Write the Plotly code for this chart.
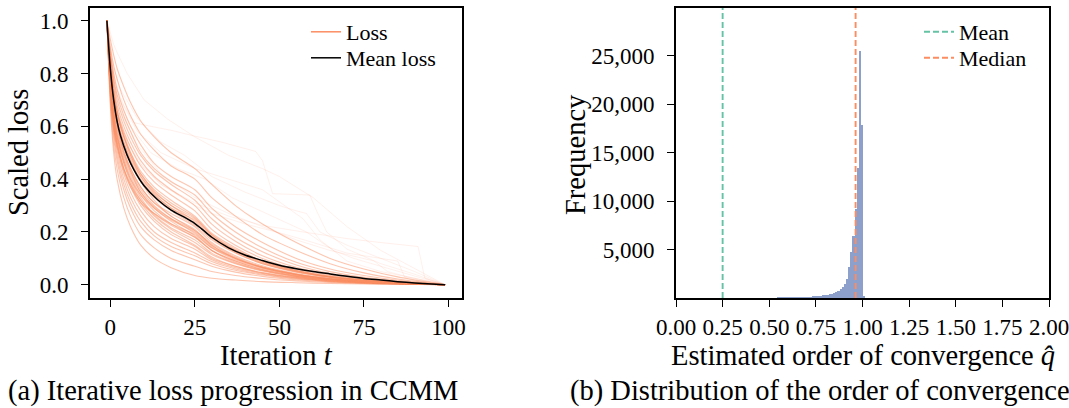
import plotly.graph_objects as go

# ---------------- data: left panel (scaled loss curves) ----------------
sample_iters = [-1, 0, 1, 2, 4, 6, 9, 13, 18, 25, 30, 37, 45, 55, 65, 75, 85, 99]
loss_curves = [
    [1, 0.68, 0.50, 0.40, 0.29, 0.22, 0.15, 0.10, 0.065, 0.035, 0.025, 0.018, 0.012, 0.008, 0.005, 0.003, 0.002, 0],
    [1, 0.70, 0.53, 0.44, 0.33, 0.26, 0.19, 0.14, 0.10, 0.07, 0.05, 0.035, 0.024, 0.015, 0.009, 0.005, 0.002, 0],
    [1, 0.72, 0.56, 0.47, 0.36, 0.29, 0.22, 0.17, 0.13, 0.095, 0.07, 0.048, 0.032, 0.019, 0.011, 0.006, 0.003, 0],
    [1, 0.74, 0.58, 0.49, 0.38, 0.31, 0.24, 0.185, 0.145, 0.11, 0.08, 0.055, 0.037, 0.022, 0.013, 0.007, 0.003, 0],
    [1, 0.75, 0.60, 0.51, 0.40, 0.33, 0.26, 0.20, 0.16, 0.12, 0.088, 0.06, 0.04, 0.024, 0.014, 0.008, 0.004, 0],
    [1, 0.76, 0.61, 0.53, 0.42, 0.35, 0.28, 0.22, 0.175, 0.135, 0.095, 0.065, 0.043, 0.026, 0.015, 0.008, 0.004, 0],
    [1, 0.77, 0.62, 0.54, 0.44, 0.37, 0.30, 0.24, 0.19, 0.145, 0.10, 0.07, 0.046, 0.028, 0.016, 0.009, 0.004, 0],
    [1, 0.78, 0.64, 0.56, 0.46, 0.39, 0.32, 0.26, 0.21, 0.16, 0.115, 0.08, 0.052, 0.031, 0.018, 0.01, 0.005, 0],
    [1, 0.79, 0.65, 0.57, 0.47, 0.41, 0.34, 0.28, 0.23, 0.18, 0.13, 0.09, 0.058, 0.034, 0.02, 0.011, 0.005, 0],
    [1, 0.80, 0.66, 0.58, 0.49, 0.43, 0.36, 0.30, 0.25, 0.195, 0.14, 0.095, 0.062, 0.037, 0.021, 0.012, 0.006, 0],
    [1, 0.80, 0.67, 0.60, 0.51, 0.44, 0.37, 0.31, 0.26, 0.205, 0.155, 0.105, 0.068, 0.04, 0.023, 0.013, 0.006, 0],
    [1, 0.81, 0.68, 0.61, 0.52, 0.46, 0.39, 0.33, 0.28, 0.225, 0.17, 0.12, 0.08, 0.05, 0.03, 0.017, 0.008, 0],
    [1, 0.82, 0.70, 0.63, 0.54, 0.48, 0.41, 0.35, 0.30, 0.24, 0.18, 0.125, 0.083, 0.05, 0.029, 0.016, 0.008, 0],
    [1, 0.83, 0.71, 0.64, 0.56, 0.50, 0.43, 0.37, 0.32, 0.26, 0.195, 0.14, 0.09, 0.055, 0.032, 0.018, 0.008, 0],
    [1, 0.84, 0.73, 0.66, 0.58, 0.52, 0.45, 0.39, 0.34, 0.28, 0.21, 0.15, 0.10, 0.06, 0.035, 0.02, 0.009, 0],
    [1, 0.85, 0.75, 0.68, 0.60, 0.54, 0.47, 0.41, 0.36, 0.30, 0.23, 0.165, 0.11, 0.066, 0.038, 0.021, 0.01, 0],
    [1, 0.86, 0.77, 0.70, 0.62, 0.56, 0.49, 0.43, 0.38, 0.32, 0.25, 0.18, 0.125, 0.075, 0.043, 0.024, 0.011, 0],
    [1, 0.88, 0.80, 0.74, 0.66, 0.60, 0.53, 0.46, 0.41, 0.36, 0.29, 0.22, 0.16, 0.10, 0.06, 0.035, 0.017, 0],
    [1, 0.90, 0.83, 0.78, 0.70, 0.64, 0.57, 0.51, 0.45, 0.40, 0.33, 0.26, 0.19, 0.13, 0.08, 0.045, 0.022, 0],
    [1, 0.93, 0.87, 0.82, 0.75, 0.69, 0.62, 0.56, 0.50, 0.44, 0.38, 0.30, 0.23, 0.16, 0.10, 0.06, 0.03, 0],
    [1, 0.73, 0.59, 0.52, 0.43, 0.37, 0.31, 0.25, 0.20, 0.15, 0.105, 0.07, 0.045, 0.027, 0.015, 0.008, 0.004, 0],
    [1, 0.78, 0.63, 0.54, 0.44, 0.38, 0.31, 0.27, 0.23, 0.19, 0.14, 0.10, 0.066, 0.04, 0.023, 0.013, 0.006, 0],
    [1, 0.83, 0.69, 0.61, 0.50, 0.43, 0.35, 0.29, 0.24, 0.185, 0.13, 0.085, 0.055, 0.032, 0.018, 0.01, 0.005, 0],
    [1, 0.80, 0.68, 0.62, 0.54, 0.47, 0.39, 0.32, 0.26, 0.21, 0.15, 0.10, 0.065, 0.038, 0.021, 0.011, 0.005, 0],
    [1, 0.86, 0.74, 0.66, 0.56, 0.49, 0.41, 0.345, 0.29, 0.245, 0.185, 0.13, 0.088, 0.053, 0.03, 0.017, 0.008, 0],
    [1, 0.76, 0.63, 0.56, 0.47, 0.40, 0.33, 0.265, 0.215, 0.17, 0.12, 0.082, 0.054, 0.032, 0.018, 0.01, 0.005, 0],
    [1, 0.82, 0.72, 0.65, 0.57, 0.50, 0.42, 0.355, 0.30, 0.25, 0.19, 0.135, 0.09, 0.054, 0.031, 0.017, 0.008, 0],
    [1, 0.79, 0.66, 0.59, 0.50, 0.44, 0.37, 0.31, 0.27, 0.22, 0.16, 0.11, 0.072, 0.043, 0.025, 0.014, 0.007, 0],
    [1, 0.87, 0.78, 0.72, 0.64, 0.58, 0.50, 0.44, 0.39, 0.34, 0.27, 0.20, 0.14, 0.085, 0.05, 0.028, 0.013, 0],
    [1, 0.75, 0.62, 0.55, 0.46, 0.40, 0.34, 0.29, 0.245, 0.20, 0.145, 0.10, 0.065, 0.039, 0.022, 0.012, 0.006, 0],
    [1, 0.77, 0.64, 0.57, 0.48, 0.42, 0.35, 0.295, 0.25, 0.205, 0.15, 0.102, 0.066, 0.04, 0.023, 0.012, 0.006, 0],
    [1, 0.81, 0.69, 0.62, 0.53, 0.47, 0.40, 0.34, 0.29, 0.235, 0.175, 0.122, 0.08, 0.048, 0.028, 0.015, 0.007, 0],
    [1, 0.74, 0.60, 0.53, 0.44, 0.38, 0.32, 0.27, 0.225, 0.18, 0.13, 0.09, 0.058, 0.035, 0.02, 0.011, 0.005, 0],
    [1, 0.84, 0.72, 0.65, 0.56, 0.49, 0.42, 0.36, 0.31, 0.255, 0.19, 0.13, 0.085, 0.052, 0.03, 0.016, 0.007, 0],
]

outlier_curves = [
    ([-1, 0, 1, 2, 4, 7, 12, 18, 25, 33, 43, 45, 48, 59, 61, 64, 70, 80, 90, 99],
     [1, 0.88, 0.8, 0.74, 0.68, 0.614, 0.6, 0.585, 0.563, 0.54, 0.505, 0.47, 0.345, 0.34, 0.28, 0.2, 0.135, 0.08, 0.04, 0]),
    ([-1, 0, 1, 3, 8, 15, 22, 25, 30, 40, 50, 55, 58, 62, 70, 80, 90, 99],
     [1, 0.9, 0.82, 0.74, 0.63, 0.54, 0.49, 0.46, 0.41, 0.35, 0.30, 0.28, 0.27, 0.2, 0.15, 0.1, 0.05, 0]),
    ([-1, 0, 1, 3, 6, 10, 15, 25, 35, 45, 57, 70, 80, 91, 93, 99],
     [1, 0.85, 0.74, 0.62, 0.52, 0.44, 0.38, 0.31, 0.26, 0.225, 0.2, 0.175, 0.16, 0.145, 0.025, 0]),
    ([-1, 0, 1, 2, 6, 12, 20, 28, 36, 48, 58, 66, 72, 80, 88, 99],
     [1, 0.86, 0.78, 0.72, 0.6, 0.5, 0.44, 0.4, 0.33, 0.26, 0.2, 0.13, 0.1, 0.07, 0.04, 0]),
    ([-1, 0, 1, 3, 8, 15, 25, 35, 45, 57, 62, 70, 80, 90, 99],
     [1, 0.88, 0.8, 0.7, 0.58, 0.5, 0.44, 0.4, 0.36, 0.25, 0.17, 0.09, 0.05, 0.025, 0]),
    ([-1, 0, 1, 2, 5, 10, 17, 25, 35, 45, 50, 60, 70, 80, 90, 99],
     [1, 0.95, 0.91, 0.88, 0.8, 0.7, 0.627, 0.56, 0.49, 0.44, 0.41, 0.33, 0.22, 0.13, 0.06, 0]),
    ([-1, 0, 1, 3, 8, 15, 25, 35, 45, 55, 65, 78, 82, 88, 99],
     [1, 0.86, 0.76, 0.66, 0.53, 0.42, 0.33, 0.27, 0.22, 0.17, 0.13, 0.09, 0.05, 0.03, 0]),
    ([-1, 0, 1, 3, 8, 15, 25, 30, 40, 52, 60, 70, 85, 87, 99],
     [1, 0.84, 0.72, 0.6, 0.47, 0.38, 0.3, 0.27, 0.23, 0.19, 0.16, 0.12, 0.09, 0.03, 0]),
]

mean_iters = [-1, 0, 1, 2, 3, 5, 7, 10, 14, 18, 22, 25, 27, 30, 35, 40, 45, 50, 55, 60, 65, 70, 75, 80, 85, 90, 95, 99]
mean_loss = [1.0, 0.82, 0.70, 0.62, 0.565, 0.49, 0.435, 0.375, 0.322, 0.283, 0.255, 0.232, 0.212, 0.18, 0.14,
             0.112, 0.092, 0.074, 0.061, 0.05, 0.041, 0.032, 0.024, 0.018, 0.012, 0.007, 0.003, 0.0]

loss_ticks = [0, 0.2, 0.4, 0.6, 0.8, 1.0]
iter_ticks = [0, 25, 50, 75, 100]

# ---------------- data: right panel (histogram of q-hat) ----------------
hist_bin_start = 0.509
hist_bin_width = 0.0115
hist_counts = [25, 35, 45, 55, 65, 75, 85, 95, 105, 115, 125, 135, 145, 155, 165, 175, 185, 195, 205, 220,
               235, 250, 270, 290, 315, 345, 380, 420, 480, 560, 660, 790, 950, 1150, 1500, 2050, 3300, 4850,
               6450, 9250, 13500, 25550, 17900, 300]
q_mean = 0.25
q_median = 0.963
freq_ticks = [5000, 10000, 15000, 20000, 25000]
q_ticks = [0.0, 0.25, 0.5, 0.75, 1.0, 1.25, 1.5, 1.75, 2.0]

# ---------------- styling ----------------
W, H = 1069, 408
FONT = "Liberation Serif"
ORANGE = "#fc8d62"
GREEN = "#66c2a5"
BLUE = "#8da0cb"

fig = go.Figure()

for vals in loss_curves:
    fig.add_trace(go.Scatter(x=sample_iters, y=vals, mode="lines", xaxis="x", yaxis="y",
                             line=dict(color="rgba(252,141,98,0.5)", width=1.1, shape="spline", smoothing=0.8),
                             showlegend=False, hoverinfo="skip"))
for its, vals in outlier_curves:
    fig.add_trace(go.Scatter(x=its, y=vals, mode="lines", xaxis="x", yaxis="y",
                             line=dict(color="rgba(252,141,98,0.13)", width=1),
                             showlegend=False, hoverinfo="skip"))
fig.add_trace(go.Scatter(x=mean_iters, y=mean_loss, mode="lines", xaxis="x", yaxis="y",
                         line=dict(color="black", width=1.5, shape="spline", smoothing=0.8),
                         showlegend=False))
# legend entries (one legend per row so the row spacing can match)
fig.add_trace(go.Scatter(x=[None], y=[None], mode="lines", name="Loss", xaxis="x", yaxis="y",
                         line=dict(color=ORANGE, width=1.5), legend="legend"))
fig.add_trace(go.Scatter(x=[None], y=[None], mode="lines", name="Mean loss", xaxis="x", yaxis="y",
                         line=dict(color="black", width=1.5), legend="legend3"))

# histogram bars
centers = [hist_bin_start + (i + 0.5) * hist_bin_width for i in range(len(hist_counts))]
fig.add_trace(go.Bar(x=centers, y=hist_counts, width=hist_bin_width, xaxis="x2", yaxis="y2",
                     marker=dict(color=BLUE, line=dict(width=0)), showlegend=False))
fig.add_trace(go.Scatter(x=[q_mean, q_mean], y=[0, 30000], mode="lines", name="Mean", xaxis="x2", yaxis="y2",
                         line=dict(color=GREEN, width=1.9, dash="6px,3px"), legend="legend2"))
fig.add_trace(go.Scatter(x=[q_median, q_median], y=[0, 30000], mode="lines", name="Median", xaxis="x2", yaxis="y2",
                         line=dict(color=ORANGE, width=1.9, dash="6px,3px"), legend="legend4"))

axis_common = dict(showline=True, mirror=True, linecolor="black", linewidth=1.6, ticks="outside",
                   ticklen=7, tickwidth=1.3, tickcolor="black", showgrid=False, zeroline=False,
                   automargin=False, ticklabeloverflow="allow",
                   tickfont=dict(family=FONT, size=23, color="black"))

leg_common = dict(xanchor="left", yanchor="middle", bgcolor="rgba(0,0,0,0)",
                  font=dict(family=FONT, size=22, color="black"), tracegroupgap=0)

ydom = [1 - 298 / H, 1 - 7.5 / H]
fig.update_layout(
    width=W, height=H, margin=dict(l=0, r=0, t=0, b=0, autoexpand=False),
    paper_bgcolor="white", plot_bgcolor="white",
    font=dict(family=FONT, color="black"),
    xaxis=dict(domain=[90 / W, 462 / W], range=[-6, 104], tickvals=iter_ticks, ticklabelstandoff=1, **axis_common),
    yaxis=dict(domain=ydom, range=[-0.05, 1.05], tickvals=loss_ticks, tickformat=".1f", ticklabelstandoff=8,
               **axis_common),
    xaxis2=dict(domain=[676 / W, 1049 / W], range=[0, 2], tickvals=q_ticks, tickformat=".2f", anchor="y2",
                ticklabelstandoff=1, **axis_common),
    yaxis2=dict(domain=ydom, range=[0, 30000], tickvals=freq_ticks, tickformat=",d", anchor="x2",
                ticklabelstandoff=8, **axis_common),
    bargap=0,
    legend=dict(x=306 / W, y=1 - 32 / H, **leg_common),
    legend3=dict(x=306 / W, y=1 - 58 / H, **leg_common),
    legend2=dict(x=919 / W, y=1 - 32 / H, **leg_common),
    legend4=dict(x=919 / W, y=1 - 58 / H, **leg_common),
)

ann_font = dict(family=FONT, size=28.5, color="black")
annotations = [
    dict(text="Scaled loss", x=18 / W, y=1 - 153 / H, textangle=-90),
    dict(text="Frequency", x=575 / W, y=1 - 155 / H, textangle=-90),
    dict(text="Iteration <i>t</i>", x=276 / W, y=1 - 355 / H),
    dict(text="Estimated order of convergence <i>q\u0302</i>", x=862.5 / W, y=1 - 355 / H),
    dict(text="(a) Iterative loss progression in CCMM", x=233 / W, y=1 - 391 / H),
    dict(text="(b) Distribution of the order of convergence", x=820 / W, y=1 - 391 / H),
]
for a in annotations:
    fig.add_annotation(xref="paper", yref="paper", showarrow=False, xanchor="center", yanchor="middle",
                       font=ann_font, **a)

fig.write_html("out.html")
